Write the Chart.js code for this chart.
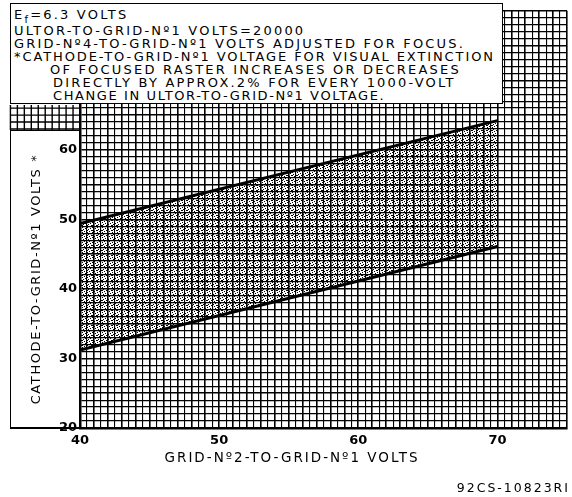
<!DOCTYPE html>
<html>
<head>
<meta charset="utf-8">
<script src="https://cdn.jsdelivr.net/npm/chart.js@4.4.0/dist/chart.umd.min.js"></script>
<style>
    html, body { margin: 0; padding: 0; background: #fff; }
    #wrap { position: relative; width: 572px; height: 497px; font-family: "DejaVu Sans", sans-serif; color: #000; }
    #wrap canvas { position: absolute; left: 0; top: 0; }
    .note { position: absolute; left: 10px; top: 3px; width: 491px; height: 99px; background: #fff; border: 1.5px solid #000; }
    .note div { position: absolute; white-space: nowrap; font-size: 13px; letter-spacing: 2.2px; line-height: 13px; }
    .ybox { position: absolute; left: 10px; top: 130px; width: 69px; height: 296px; border-left: 1.5px solid #000; border-top: 1.5px solid #000; border-bottom: 2.5px solid #000; }
    .ytitle { position: absolute; left: 35px; top: 279px; transform: translate(-50%, -50%) rotate(-90deg); white-space: nowrap; font-size: 13px; letter-spacing: 1.6px; }
    .xtitle { position: absolute; left: 292px; top: 457px; transform: translate(-50%, -50%); white-space: nowrap; font-size: 13.5px; letter-spacing: 2px; }
    .code { position: absolute; right: 2px; top: 480px; white-space: nowrap; font-size: 12.5px; letter-spacing: 2px; }
</style>
</head>
<body>
<div id="wrap">
    <canvas id="chart" width="572" height="497"></canvas>
    <div class="note">
        <div style="left:3px; top:4px;">E<sub style="font-size:10px;">f</sub>=6.3 VOLTS</div>
        <div style="left:3px; top:20px;">ULTOR-TO-GRID-Nº1 VOLTS=20000</div>
        <div style="left:3px; top:33px;">GRID-Nº4-TO-GRID-Nº1 VOLTS ADJUSTED FOR FOCUS.</div>
        <div style="left:3px; top:46px; letter-spacing:1.9px;">*CATHODE-TO-GRID-Nº1 VOLTAGE FOR VISUAL EXTINCTION</div>
        <div style="left:39px; top:59px;">OF FOCUSED RASTER INCREASES OR DECREASES</div>
        <div style="left:42px; top:72px;">DIRECTLY BY APPROX.2% FOR EVERY 1000-VOLT</div>
        <div style="left:42px; top:85px; letter-spacing:1.6px;">CHANGE IN ULTOR-TO-GRID-Nº1 VOLTAGE.</div>
    </div>
    <div class="ybox"></div>
    <div class="ytitle">CATHODE-TO-GRID-Nº1 VOLTS *</div>
    <div class="xtitle">GRID-Nº2-TO-GRID-Nº1 VOLTS</div>
    <div class="code">92CS-10823RI</div>
</div>
<script>
// grid-No.2 volts at the two ends of the band
const grid2Volts = [40, 70];
// upper and lower edges of the extinction band (cathode-to-grid-No.1 volts)
const upperEdge = [49.4, 64.2];
const lowerEdge = [31.2, 46.1];
const xTickLabels = [40, 50, 60, 70];
const yTickLabels = [20, 30, 40, 50, 60];

// speckle texture, transparent so the graph paper shows through
function dotPattern() {
    const c = document.createElement('canvas');
    c.width = 5;
    c.height = 5;
    const g = c.getContext('2d');
    g.fillStyle = '#000';
    g.fillRect(1, 0, 2, 1);
    g.fillRect(4, 1, 1, 1);
    g.fillRect(2, 2, 1, 1);
    g.fillRect(0, 3, 1, 1);
    g.fillRect(3, 4, 1, 1);
    return g.createPattern(c, 'repeat');
}

// graph paper showing above the y-title box, left of the axis
const paperStub = {
    id: 'paperStub',
    afterDraw(chart) {
        const ctx = chart.ctx;
        const x = chart.scales.x;
        const y = chart.scales.y;
        const left = 10, right = chart.chartArea.left, top = 105, bottom = 130;
        ctx.save();
        ctx.strokeStyle = '#000';
        ctx.lineWidth = 1.4;
        ctx.beginPath();
        for (let v = 35; v < 40; v += 0.5) {
            const px = x.getPixelForValue(v);
            ctx.moveTo(px, top);
            ctx.lineTo(px, bottom);
        }
        for (let v = 60; v <= 70; v++) {
            const py = y.getPixelForValue(v);
            if (py < top || py > bottom) continue;
            ctx.moveTo(left, py);
            ctx.lineTo(right, py);
        }
        ctx.stroke();
        ctx.restore();
    }
};

const tickFont = { family: 'DejaVu Sans', size: 13, weight: 'bold' };

new Chart(document.getElementById('chart'), {
    type: 'line',
    data: {
        datasets: [
            {
                data: grid2Volts.map((v, i) => ({ x: v, y: upperEdge[i] })),
                borderColor: '#000',
                borderWidth: 3,
                pointRadius: 0,
                fill: '+1',
                backgroundColor: dotPattern()
            },
            {
                data: grid2Volts.map((v, i) => ({ x: v, y: lowerEdge[i] })),
                borderColor: '#000',
                borderWidth: 3,
                pointRadius: 0,
                fill: false
            }
        ]
    },
    options: {
        responsive: false,
        animation: false,
        layout: { padding: { left: 10, top: 8, right: 2, bottom: 45 } },
        plugins: { legend: { display: false }, tooltip: { enabled: false } },
        scales: {
            x: {
                type: 'linear',
                min: 40,
                max: 75,
                afterFit: s => { s.height = 24; },
                border: { color: '#000', width: 2.5 },
                grid: {
                    drawTicks: false,
                    color: '#000',
                    lineWidth: c => (c.tick && c.tick.value % 1 === 0 ? 1.6 : 1.1)
                },
                ticks: {
                    stepSize: 0.5,
                    autoSkip: false,
                    maxRotation: 0,
                    padding: 5,
                    color: '#000',
                    font: tickFont,
                    callback: v => (xTickLabels.includes(v) ? v : '')
                }
            },
            y: {
                min: 20,
                max: 80,
                afterFit: s => { s.width = 70; },
                border: { color: '#000', width: 2.5 },
                grid: {
                    drawTicks: false,
                    color: '#000',
                    lineWidth: c => (c.tick && c.tick.value % 5 === 0 ? 1.6 : 1.3)
                },
                ticks: {
                    stepSize: 1,
                    autoSkip: false,
                    padding: 3,
                    color: '#000',
                    font: tickFont,
                    labelOffset: c => (c.tick && c.tick.value === 20 ? -6 : 0),
                    callback: v => (yTickLabels.includes(v) ? v : '')
                }
            }
        }
    },
    plugins: [paperStub]
});
</script>
</body>
</html>
